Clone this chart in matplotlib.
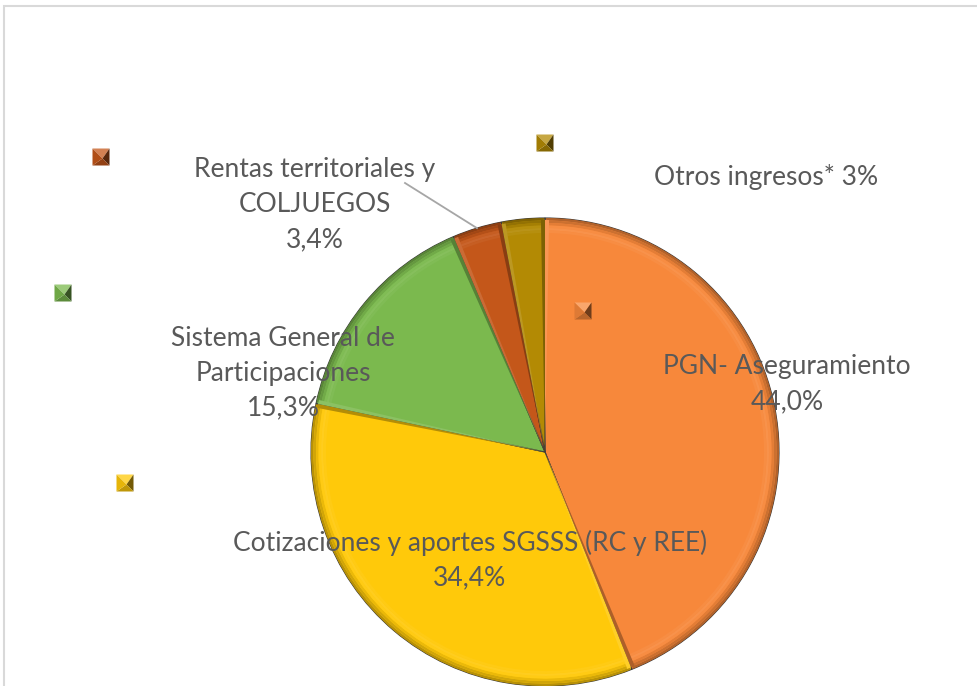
import matplotlib
matplotlib.use("Agg")
import matplotlib.pyplot as plt
import numpy as np
from matplotlib.patches import Wedge, Polygon, Rectangle
from matplotlib.colors import to_rgb

W, H = 977, 686

categories = [
    "PGN- Aseguramiento",
    "Cotizaciones y aportes SGSSS (RC y REE)",
    "Sistema General de\nParticipaciones",
    "Rentas territoriales y\nCOLJUEGOS",
    "Otros ingresos*",
]
values = [44.0, 34.4, 15.3, 3.4, 3.0]
value_labels = ["44,0%", "34,4%", "15,3%", "3,4%", "3%"]
colors = ["#F7883B", "#FFC90A", "#7BB94E", "#C4571A", "#B38A04"]

# layout (pixel space)
CENTER = (545, H - 452)
RADIUS = 234
TEXT_COLOR = "#595959"
FONT = ["Lato", "DejaVu Sans"]
FS = 19

label_pos = [(787, H - 384), (470, H - 560), (283, H - 373), (315, H - 205), (766, H - 177)]
marker_pos = [(583, H - 311), (125, H - 483), (63, H - 293), (101, H - 157), (545, H - 143)]


def shade(c, f):
    r, g, b = to_rgb(c)
    if f < 1:
        return (r * f, g * f, b * f)
    return (r + (1 - r) * (f - 1), g + (1 - g) * (f - 1), b + (1 - b) * (f - 1))


def bevel_square(ax, x, y, color, s=8.5):
    c = [(x - s, y + s), (x + s, y + s), (x + s, y - s), (x - s, y - s)]
    mid = (x + 1.5, y - 1.5)
    faces = [
        ([c[0], c[1], mid], shade(color, 1.25)),
        ([c[1], c[2], mid], shade(color, 0.45)),
        ([c[2], c[3], mid], shade(color, 0.75)),
        ([c[3], c[0], mid], shade(color, 0.9)),
    ]
    for pts, fc in faces:
        ax.add_patch(Polygon(pts, closed=True, facecolor=fc, edgecolor="none", zorder=5))


fig = plt.figure(figsize=(W / 100, H / 100), dpi=100)
ax = fig.add_axes([0, 0, 1, 1])

wedges, _ = ax.pie(
    values,
    colors=colors,
    startangle=90,
    counterclock=False,
    center=CENTER,
    radius=RADIUS,
    wedgeprops=dict(edgecolor="#3a3a3a", linewidth=0.8),
)

# fake bevel: shaded rim along the outer arc of each slice
for w, col in zip(wedges, colors):
    t1, t2 = w.theta1, w.theta2
    for k, f in enumerate([0.72, 0.82, 0.92, 1.04, 1.08, 1.04]):
        r_out = RADIUS - k * 2.5
        ax.add_patch(Wedge(CENTER, r_out, t1 + 0.3, t2 - 0.3, width=2.5,
                           facecolor=shade(col, f), edgecolor="none", zorder=2))
    # shading along the radial sides
    ax.add_patch(Wedge(CENTER, RADIUS - 2, t1, t1 + 1.0,
                       facecolor=shade(col, 0.7), edgecolor="none", zorder=2))
    ax.add_patch(Wedge(CENTER, RADIUS - 2, t2 - 1.0, t2,
                       facecolor=shade(col, 1.12), edgecolor="none", zorder=2))

for i, w in enumerate(wedges):
    if i == 4:
        txt = f"{categories[i]} {value_labels[i]}"
    else:
        txt = f"{categories[i]}\n{value_labels[i]}"
    ax.text(*label_pos[i], txt, ha="center", va="center", color=TEXT_COLOR,
            fontsize=FS, family=FONT, linespacing=1.5, zorder=6)

# leader line for the small "Rentas" slice
w = wedges[3]
mid = np.deg2rad((w.theta1 + w.theta2) / 2)
edge = (CENTER[0] + RADIUS * np.cos(mid), CENTER[1] + RADIUS * np.sin(mid))
ax.plot([405, edge[0]], [H - 183, edge[1]], color="#A6A6A6", lw=1.3, zorder=6)

for (x, y), col in zip(marker_pos, colors):
    bevel_square(ax, x, y, col)

ax.add_patch(Rectangle((4, -10), W + 10, H - 6 + 10, fill=False,
                       edgecolor="#D9D9D9", lw=1.5, zorder=7))

ax.set_xlim(0, W)
ax.set_ylim(0, H)
ax.set_aspect("equal")
ax.axis("off")

fig.savefig("out.png", dpi=100, facecolor="white")
